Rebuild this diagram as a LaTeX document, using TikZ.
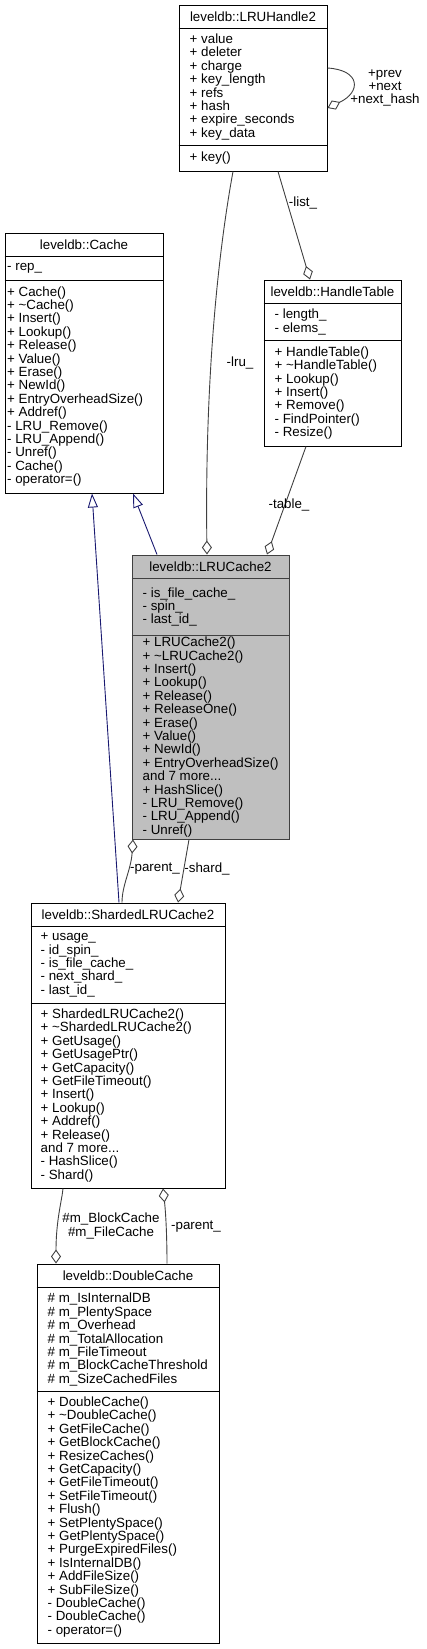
\documentclass[tikz,border=0pt]{standalone}
\usepackage{fontspec}
\setmainfont{Liberation Sans}
\usetikzlibrary{arrows.meta}

\definecolor{edgegray}{HTML}{404040}
\definecolor{inhblue}{HTML}{191970}
\definecolor{curfill}{HTML}{BFBFBF}

\begin{document}
\begin{tikzpicture}[x=1pt,y=-1pt,
    classbox/.style={draw=black,line width=1pt,fill=white,inner sep=0pt},
    classtitle/.style={inner sep=0pt,font=\fontsize{13.33}{13.4}\selectfont},
    members/.style={anchor=west,align=left,inner sep=0pt,font=\fontsize{13.33}{13.4}\selectfont},
    sepline/.style={line width=1pt},
    agg/.style={draw=edgegray,line width=0.9pt,{Diamond[open,length=14pt,width=10pt]}-},
    inh/.style={draw=inhblue,line width=0.9pt,-{Triangle[open,length=14pt,width=10pt]}},
    elabel/.style={inner sep=0pt,align=center,font=\fontsize{13.33}{13.4}\selectfont}]
    \useasboundingbox (0,0) rectangle (426,1649);
    % LRUHandle2
        \node[classbox,minimum width=148pt,minimum height=166pt] (handle) at (253,88) {};
        \draw[sepline] ([yshift=-24pt]handle.north west) -- ([yshift=-24pt]handle.north east);
        \draw[sepline] ([yshift=-141pt]handle.north west) -- ([yshift=-141pt]handle.north east);
        \node[classtitle] (handle-t) at ([yshift=-12pt]handle.north) {leveldb::LRUHandle2};
        \node[members] (handle-a) at ([xshift=11pt,yshift=-82.5pt]handle.north west) {+ value\\+ deleter\\+ charge\\+ key\_length\\+ refs\\+ hash\\+ expire\_seconds\\+ key\_data};
        \node[members] (handle-m) at ([xshift=11pt,yshift=-153.5pt]handle.north west) {+ key()};
    % Cache
        \node[classbox,minimum width=158pt,minimum height=260pt] (cache) at (84,363) {};
        \draw[sepline] ([yshift=-24pt]cache.north west) -- ([yshift=-24pt]cache.north east);
        \draw[sepline] ([yshift=-48pt]cache.north west) -- ([yshift=-48pt]cache.north east);
        \node[classtitle] (cache-t) at ([yshift=-12pt]cache.north) {leveldb::Cache};
        \node[members] (cache-a) at ([xshift=2.5pt,yshift=-36pt]cache.north west) {- rep\_};
        \node[members] (cache-m) at ([xshift=2.5pt,yshift=-154pt]cache.north west) {+ Cache()\\+ \textasciitilde Cache()\\+ Insert()\\+ Lookup()\\+ Release()\\+ Value()\\+ Erase()\\+ NewId()\\+ EntryOverheadSize()\\+ Addref()\\- LRU\_Remove()\\- LRU\_Append()\\- Unref()\\- Cache()\\- operator=()};
    % HandleTable
        \node[classbox,minimum width=137pt,minimum height=166pt] (htable) at (332.5,363) {};
        \draw[sepline] ([yshift=-24pt]htable.north west) -- ([yshift=-24pt]htable.north east);
        \draw[sepline] ([yshift=-61pt]htable.north west) -- ([yshift=-61pt]htable.north east);
        \node[classtitle] (htable-t) at ([yshift=-12pt]htable.north) {leveldb::HandleTable};
        \node[members] (htable-a) at ([xshift=11pt,yshift=-42.5pt]htable.north west) {- length\_\\- elems\_};
        \node[members] (htable-m) at ([xshift=11pt,yshift=-113.5pt]htable.north west) {+ HandleTable()\\+ \textasciitilde HandleTable()\\+ Lookup()\\+ Insert()\\+ Remove()\\- FindPointer()\\- Resize()};
    % LRUCache2
        \node[classbox,draw=edgegray,fill=curfill,minimum width=157pt,minimum height=284pt] (lru) at (210.5,697) {};
        \draw[sepline,edgegray] ([yshift=-24pt]lru.north west) -- ([yshift=-24pt]lru.north east);
        \draw[sepline,edgegray] ([yshift=-81pt]lru.north west) -- ([yshift=-81pt]lru.north east);
        \node[classtitle] (lru-t) at ([yshift=-12pt]lru.north) {leveldb::LRUCache2};
        \node[members] (lru-a) at ([xshift=11pt,yshift=-52.5pt]lru.north west) {- is\_file\_cache\_\\- spin\_\\- last\_id\_};
        \node[members] (lru-m) at ([xshift=11pt,yshift=-182.5pt]lru.north west) {+ LRUCache2()\\+ \textasciitilde LRUCache2()\\+ Insert()\\+ Lookup()\\+ Release()\\+ ReleaseOne()\\+ Erase()\\+ Value()\\+ NewId()\\+ EntryOverheadSize()\\and 7 more...\\+ HashSlice()\\- LRU\_Remove()\\- LRU\_Append()\\- Unref()};
    % ShardedLRUCache2
        \node[classbox,minimum width=194pt,minimum height=285pt] (sharded) at (128,1045.5) {};
        \draw[sepline] ([yshift=-24pt]sharded.north west) -- ([yshift=-24pt]sharded.north east);
        \draw[sepline] ([yshift=-101pt]sharded.north west) -- ([yshift=-101pt]sharded.north east);
        \node[classtitle] (sharded-t) at ([yshift=-12pt]sharded.north) {leveldb::ShardedLRUCache2};
        \node[members] (sharded-a) at ([xshift=10pt,yshift=-62.5pt]sharded.north west) {+ usage\_\\- id\_spin\_\\- is\_file\_cache\_\\- next\_shard\_\\- last\_id\_};
        \node[members] (sharded-m) at ([xshift=10pt,yshift=-193pt]sharded.north west) {+ ShardedLRUCache2()\\+ \textasciitilde ShardedLRUCache2()\\+ GetUsage()\\+ GetUsagePtr()\\+ GetCapacity()\\+ GetFileTimeout()\\+ Insert()\\+ Lookup()\\+ Addref()\\+ Release()\\and 7 more...\\- HashSlice()\\- Shard()};
    % DoubleCache
        \node[classbox,minimum width=182pt,minimum height=379pt] (dbl) at (128,1453.5) {};
        \draw[sepline] ([yshift=-24pt]dbl.north west) -- ([yshift=-24pt]dbl.north east);
        \draw[sepline] ([yshift=-128pt]dbl.north west) -- ([yshift=-128pt]dbl.north east);
        \node[classtitle] (dbl-t) at ([yshift=-12pt]dbl.north) {leveldb::DoubleCache};
        \node[members] (dbl-a) at ([xshift=11pt,yshift=-76pt]dbl.north west) {\# m\_IsInternalDB\\\# m\_PlentySpace\\\# m\_Overhead\\\# m\_TotalAllocation\\\# m\_FileTimeout\\\# m\_BlockCacheThreshold\\\# m\_SizeCachedFiles};
        \node[members] (dbl-m) at ([xshift=11pt,yshift=-253.5pt]dbl.north west) {+ DoubleCache()\\+ \textasciitilde DoubleCache()\\+ GetFileCache()\\+ GetBlockCache()\\+ ResizeCaches()\\+ GetCapacity()\\+ GetFileTimeout()\\+ SetFileTimeout()\\+ Flush()\\+ SetPlentySpace()\\+ GetPlentySpace()\\+ PurgeExpiredFiles()\\+ IsInternalDB()\\+ AddFileSize()\\+ SubFileSize()\\- DoubleCache()\\- DoubleCache()\\- operator=()};
    % links
        % self loop
        \draw[agg] ([yshift=-20pt]handle.east) .. controls +(34,-16) and +(33,2) .. ([yshift=20pt]handle.east);
        \node[elabel] (loop-l) at (385,88) {+prev\\+next\\+next\_hash};
        % lru
        \draw[agg] ([xshift=-3.5pt]lru.north) .. controls (205,400) and (215,270) .. ([xshift=-20pt]handle.south);
        \node[elabel] (lru-l) at (240,363) {-lru\_};
        % list
        \draw[agg] ([xshift=-22.5pt]htable.north) -- ([xshift=25pt]handle.south);
        \node[elabel] (list-l) at (303,203) {-list\_};
        % table
        \draw[agg] ([xshift=56.5pt]lru.north) -- ([xshift=-26.5pt]htable.south);
        \node[elabel] (table-l) at (289,505) {-table\_};
        % inheritance
        \draw[inh] ([xshift=-53.5pt]lru.north) -- ([xshift=49pt]cache.south);
        \draw[inh] ([xshift=-9pt]sharded.north) -- ([xshift=8pt]cache.south);
        % parent and shard
        \draw[agg] ([xshift=-77.5pt]lru.south) .. controls (131,870) and (122,885) .. ([xshift=-6pt]sharded.north);
        \node[elabel] (parent-l) at (155,869) {-parent\_};
        \draw[agg] ([xshift=50pt]sharded.north) -- ([xshift=-21.5pt]lru.south);
        \node[elabel] (shard-l) at (207,869) {-shard\_};
        % double cache
        \draw[agg] ([xshift=-72pt]dbl.north) .. controls (56,1220) and (62,1200) .. ([xshift=-65pt]sharded.south);
        \node[elabel] (block-l) at (111,1226) {\#m\_BlockCache\\\#m\_FileCache};
        \draw[agg] ([xshift=35pt]sharded.south) .. controls (166,1215) and (167,1240) .. ([xshift=39pt]dbl.north);
        \node[elabel] (parent2-l) at (196,1227) {-parent\_};
\end{tikzpicture}
\end{document}
